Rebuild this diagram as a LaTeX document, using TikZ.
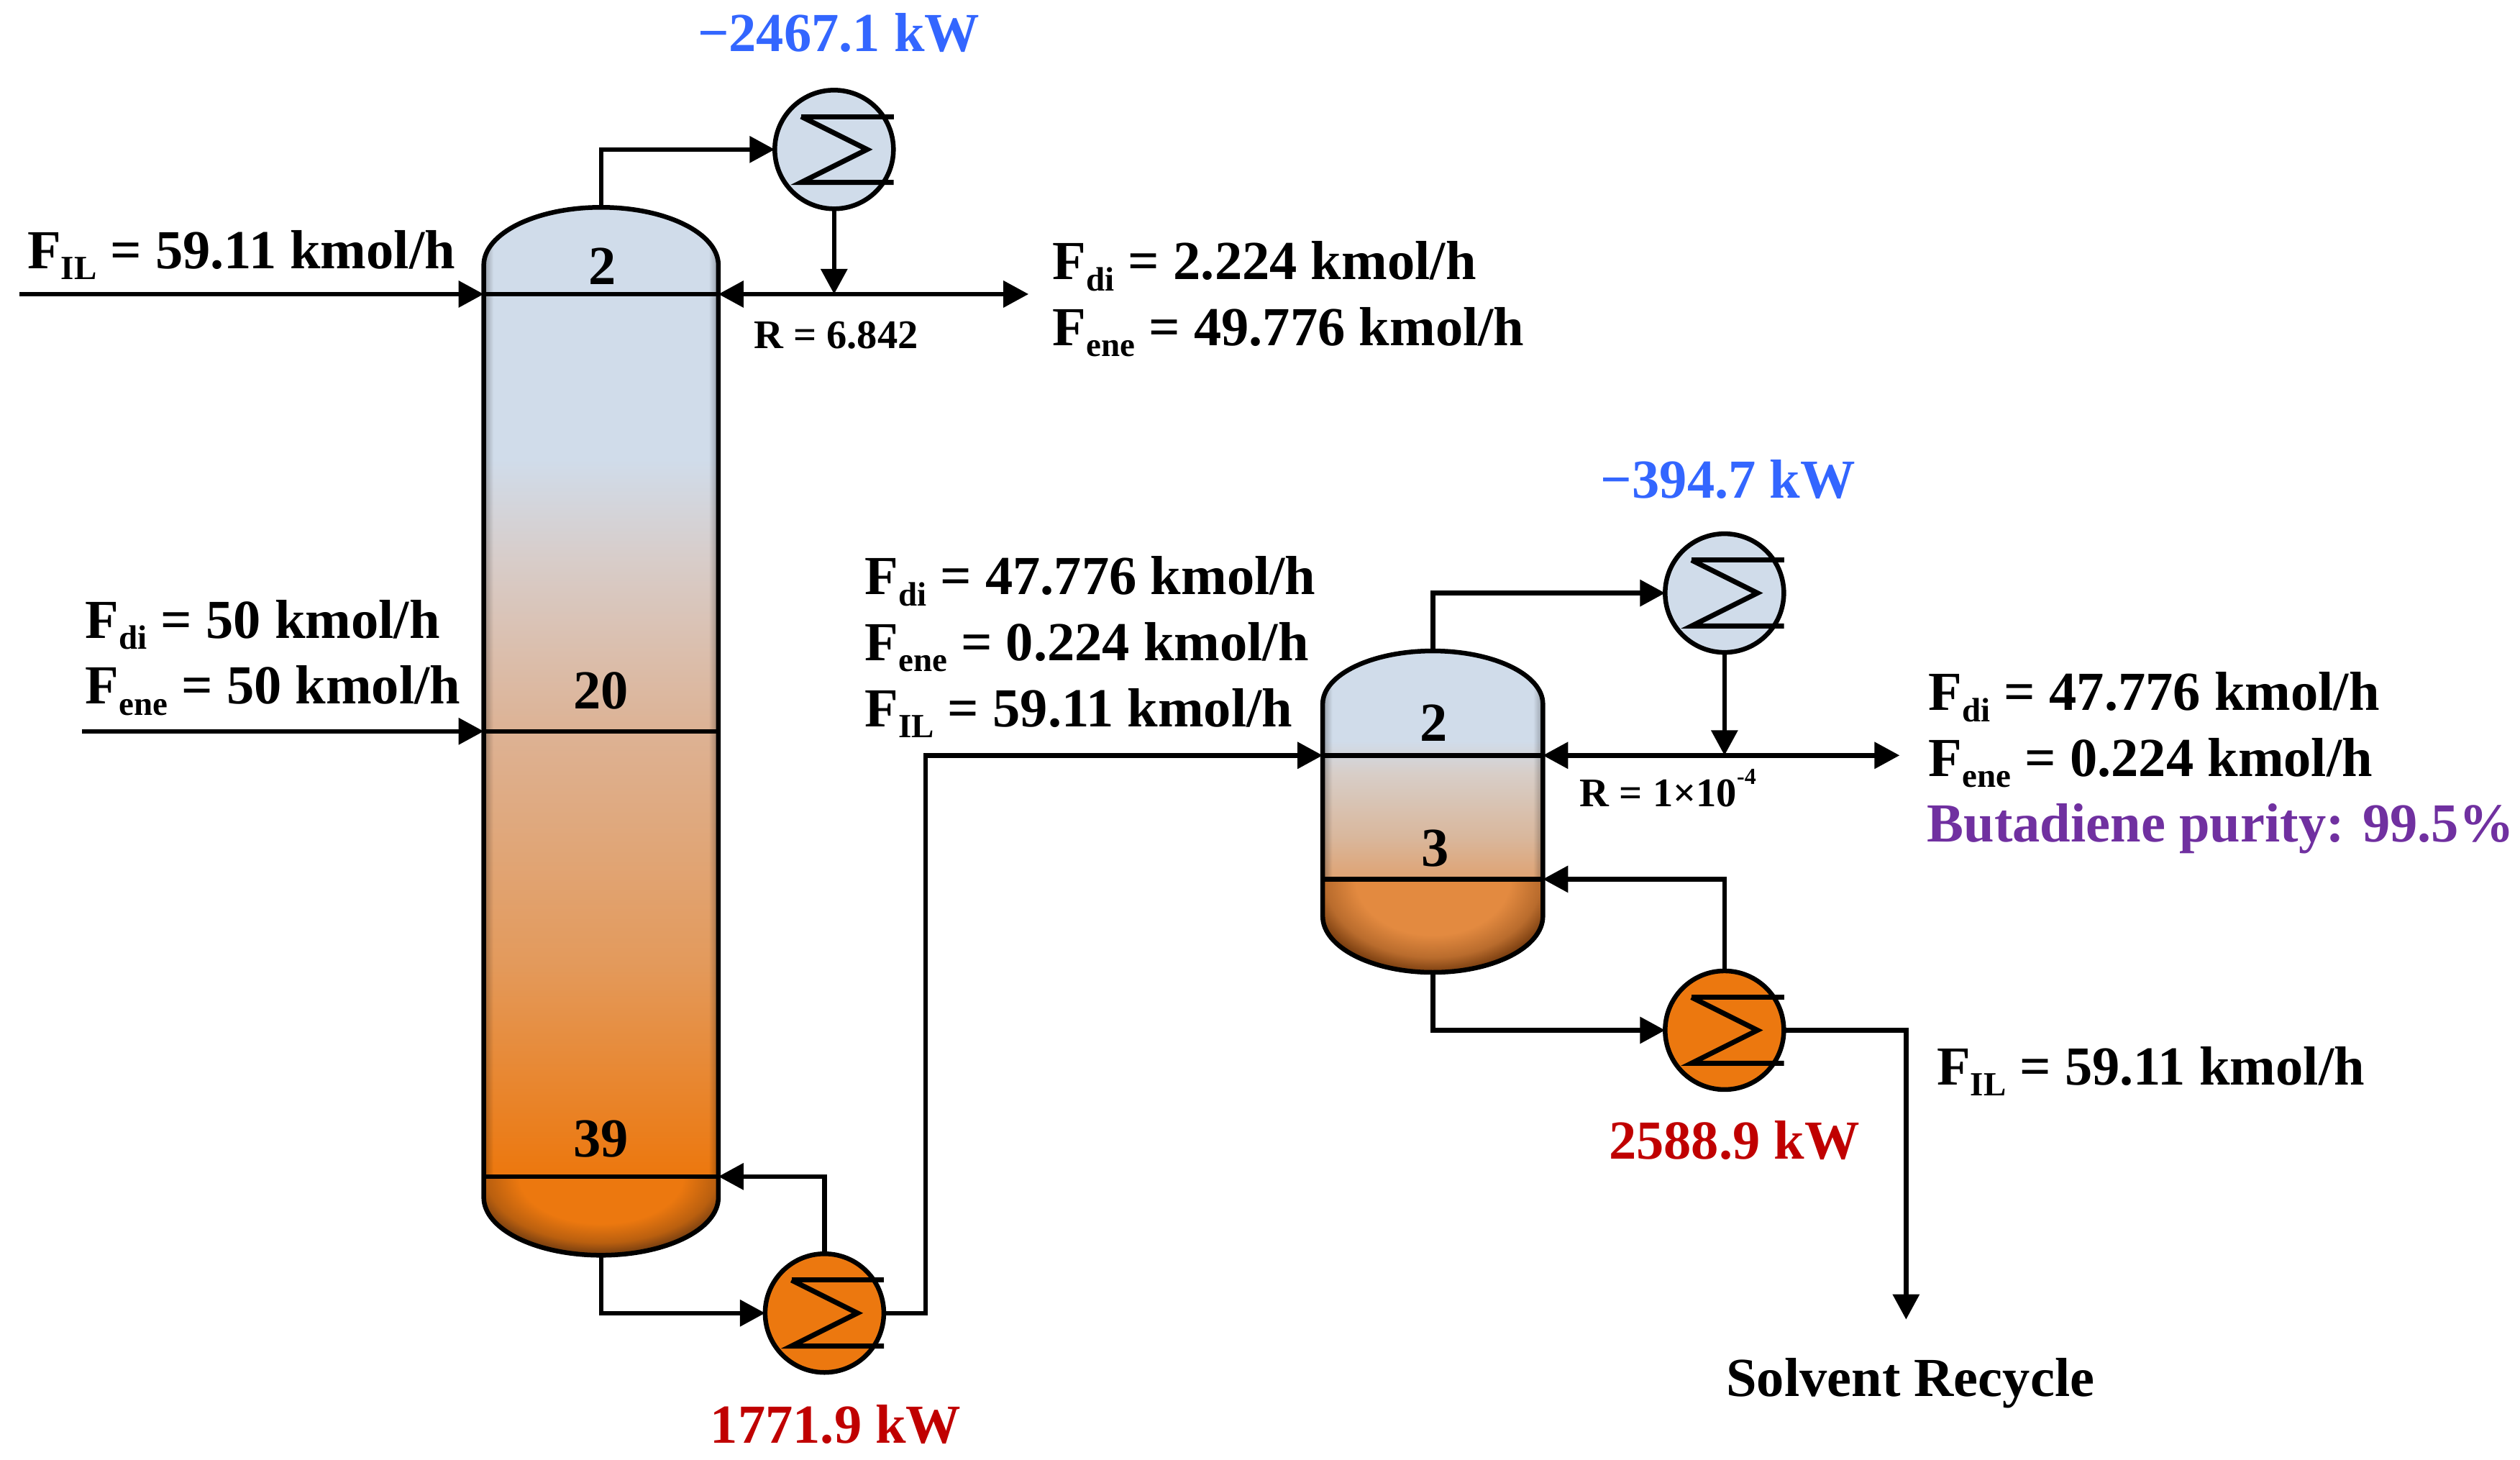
\documentclass[tikz,border=0pt]{standalone}
\usepackage{fontspec}
\setmainfont{Liberation Serif}
\usetikzlibrary{arrows.meta,fadings}
\definecolor{cblue}{HTML}{D0DCEA}
\definecolor{corange}{HTML}{EC780F}
\definecolor{tblue}{HTML}{3366FF}
\definecolor{tred}{HTML}{C00000}
\definecolor{tpurple}{HTML}{7030A0}
\definecolor{aone}{HTML}{E39A5C}
\definecolor{atwo}{HTML}{DDB294}
\definecolor{athree}{HTML}{D8CCC8}
\definecolor{bzero}{HTML}{E38A40}
\definecolor{bone}{HTML}{DFA272}
\definecolor{btwo}{HTML}{D9B79C}
\definecolor{bthree}{HTML}{D8CEC8}
\definecolor{darkA}{HTML}{6E3A10}
\definecolor{darkB}{HTML}{7A3E10}
\colorlet{midA}{corange!60!darkA}
\colorlet{midB}{bzero!60!darkB}
\pgfdeclareverticalshading{colAshade}{100bp}{
 color(0bp)=(corange); color(25bp)=(corange); color(29bp)=(corange);
 color(39bp)=(aone);
 color(50bp)=(atwo);
 color(58bp)=(athree);
 color(63bp)=(cblue); color(75bp)=(cblue); color(100bp)=(cblue)}
\pgfdeclareverticalshading{colBshade}{100bp}{
 color(0bp)=(bzero); color(25bp)=(bzero);
 color(32.5bp)=(bzero);
 color(39.5bp)=(bone);
 color(46bp)=(btwo);
 color(56bp)=(bthree);
 color(61bp)=(cblue); color(75bp)=(cblue); color(100bp)=(cblue)}
\pgfdeclareradialshading{capAshade}{\pgfpointorigin}{
 color(0bp)=(corange); color(15bp)=(corange); color(21bp)=(midA);
 color(25bp)=(darkA); color(50bp)=(darkA)}
\pgfdeclareradialshading{capBshade}{\pgfpointorigin}{
 color(0bp)=(bzero); color(15bp)=(bzero); color(21bp)=(midB);
 color(25bp)=(darkB); color(50bp)=(darkB)}
\tikzfading[name=fromleft,left color=transparent!70,right color=transparent!100]
\tikzfading[name=fromright,left color=transparent!100,right color=transparent!70]
\newcommand\pathA{(301,165) .. controls (301,145.1) and (333.7,129) .. (374,129) .. controls (414.3,129) and (447,145.1) .. (447,165) -- (447,745) .. controls (447,764.9) and (414.3,781) .. (374,781) .. controls (333.7,781) and (301,764.9) .. (301,745) -- cycle}
\newcommand\pathB{(823,438) .. controls (823,419.8) and (853.7,405) .. (891.5,405) .. controls (929.3,405) and (960,419.8) .. (960,438) -- (960,570) .. controls (960,589.3) and (929.3,605) .. (891.5,605) .. controls (853.7,605) and (823,589.3) .. (823,570) -- cycle}
\newcommand\lowtxt[1]{\raisebox{-0.2em}{\fontsize{47}{47}\selectfont #1}}
\newcommand\hxunit[3]{%
 \node[hxbox,fill=#3] (#1) at (#2) {};
 \draw[hxline] ([shift={(-20.5,-20.5)}]#1.center) -- ([shift={(37,-20.5)}]#1.center);
 \draw[hxline] ([shift={(-20.5,-20.5)}]#1.center) -- ([shift={(20.5,0)}]#1.center) -- ([shift={(-20.5,20.5)}]#1.center) -- ([shift={(37,20.5)}]#1.center);
}
\tikzset{
 x=2.2347pt,y=-2.2347pt,
 flow/.style={line width=6.5pt,-{Triangle[length=35pt,width=36pt]},line join=miter},
 plainline/.style={line width=6.5pt,line join=miter},
 both/.style={line width=6.5pt,{Triangle[length=35pt,width=36pt]}-{Triangle[length=35pt,width=36pt]}},
 hxbox/.style={circle,draw=black,line width=6.5pt,minimum size=165pt,inner sep=0pt,outer sep=0pt},
 hxline/.style={line width=7pt,line join=miter},
 vessel/.style={draw=black,line width=6.5pt},
 lab/.style={anchor=base west,inner sep=0pt,font=\fontsize{76.5}{76.5}\selectfont\bfseries},
 mid/.style={anchor=base,inner sep=0pt,font=\fontsize{76.5}{76.5}\selectfont\bfseries},
 small/.style={anchor=base west,inner sep=0pt,font=\fontsize{56.5}{56.5}\selectfont\bfseries},
}
\begin{document}
\begin{tikzpicture}
\useasboundingbox (0,0) rectangle (1568,908);
\fill[white] (0,0) rectangle (1568,908);
% column 1
\begin{scope}
 \clip \pathA;
 \shade[shading=colAshade] (301,129) rectangle (447,781);
 \begin{scope}
  \clip (301,732) rectangle (447,781);
  \shade[shading=capAshade] (289,683) rectangle (459,781);
 \end{scope}
 \fill[black,path fading=fromleft] (301,129) rectangle (307,732);
 \fill[black,path fading=fromright] (441,129) rectangle (447,732);
\end{scope}
\draw[vessel] \pathA;
% column 2
\begin{scope}
 \clip \pathB;
 \shade[shading=colBshade] (823,405) rectangle (960,605);
 \begin{scope}
  \clip (823,547) rectangle (960,605);
  \shade[shading=capBshade] (811.5,489) rectangle (971.5,605);
 \end{scope}
 \fill[black,path fading=fromleft] (823,405) rectangle (829,547);
 \fill[black,path fading=fromright] (954,405) rectangle (960,547);
\end{scope}
\draw[vessel] \pathB;
% anchors
\coordinate (c1top) at (374,129);
\coordinate (c1bot) at (374,781);
\coordinate (c1l2) at (301,183);
\coordinate (c1r2) at (447,183);
\coordinate (c1l20) at (301,455);
\coordinate (c1r20) at (447,455);
\coordinate (c1l39) at (301,732);
\coordinate (c1r39) at (447,732);
\coordinate (c2top) at (891.5,405);
\coordinate (c2bot) at (891.5,605);
\coordinate (c2l2) at (823,470);
\coordinate (c2r2) at (960,470);
\coordinate (c2l3) at (823,547);
\coordinate (c2r3) at (960,547);
\coordinate (feedA) at (12,183);
\coordinate (feedB) at (51,455);
\coordinate (distA) at (640,183);
\coordinate (distB) at (1182,470);
\coordinate (turnA) at (576,817);
\coordinate (turnB) at (576,470);
\coordinate (turnC) at (1186,641);
\coordinate (recyc) at (1186,821);
\coordinate (jA) at (519,183);
\coordinate (jB) at (1073,470);
% exchangers
\hxunit{condA}{519,93}{cblue}
\hxunit{rebA}{513,817}{corange}
\hxunit{condB}{1073,369}{cblue}
\hxunit{rebB}{1073,641}{corange}
% internal lines
\draw[plainline] (c1l2) -- (c1r2);
\draw[plainline] (c1l20) -- (c1r20);
\draw[plainline] (c1l39) -- (c1r39);
\draw[plainline] (c2l2) -- (c2r2);
\draw[plainline] (c2l3) -- (c2r3);
% connectors
\draw[flow] (feedA) -- (c1l2);
\draw[flow] (feedB) -- (c1l20);
\draw[flow] (c1top) |- (condA.west);
\draw[flow] (condA.south) -- (jA);
\draw[both] (c1r2) -- (distA);
\draw[flow] (c1bot) |- (rebA.west);
\draw[flow] (rebA.north) |- (c1r39);
\draw[flow] (rebA.east) -- (turnA) -- (turnB) -- (c2l2);
\draw[flow] (c2top) |- (condB.west);
\draw[flow] (condB.south) -- (jB);
\draw[both] (c2r2) -- (distB);
\draw[flow] (c2bot) |- (rebB.west);
\draw[flow] (rebB.north) |- (c2r3);
\draw[flow] (rebB.east) -- (turnC) -- (recyc);
% texts
\node[lab] (t1) at (17,167) {F\lowtxt{IL} = 59.11 kmol/h};
\node[mid] (t2) at (375,177) {2};
\node[lab,text=tblue] (t3) at (434,32) {−2467.1 kW};
\node[lab] (t4) at (655,174) {F\lowtxt{di} = 2.224 kmol/h};
\node[lab] (t5) at (655,215) {F\lowtxt{ene} = 49.776 kmol/h};
\node[small] (t6) at (469,217) {R = 6.842};
\node[lab] (t7) at (53,397) {F\lowtxt{di} = 50 kmol/h};
\node[lab] (t8) at (53,438) {F\lowtxt{ene} = 50 kmol/h};
\node[mid] (t9) at (374,441) {20};
\node[mid] (t10) at (374,720) {39};
\node[lab,text=tred] (t11) at (442,898) {1771.9 kW};
\node[lab] (t12) at (538,370) {F\lowtxt{di} = 47.776 kmol/h};
\node[lab] (t13) at (538,411) {F\lowtxt{ene} = 0.224 kmol/h};
\node[lab] (t14) at (538,452) {F\lowtxt{IL} = 59.11 kmol/h};
\node[lab,text=tblue] (t15) at (996,310) {−394.7 kW};
\node[mid] (t16) at (892,461) {2};
\node[mid] (t17) at (893,539) {3};
\node[small] (t18) at (983,502) {R = 1×10\raisebox{0.55em}{\fontsize{32}{32}\selectfont -4}};
\node[lab] (t19) at (1200,442) {F\lowtxt{di} = 47.776 kmol/h};
\node[lab] (t20) at (1200,483) {F\lowtxt{ene} = 0.224 kmol/h};
\node[lab,text=tpurple] (t21) at (1199,524) {Butadiene purity: 99.5\%};
\node[lab,text=tred] (t22) at (1001,721) {2588.9 kW};
\node[lab] (t23) at (1205,675) {F\lowtxt{IL} = 59.11 kmol/h};
\node[lab] (t24) at (1074,869) {Solvent Recycle};
\end{tikzpicture}
\end{document}
